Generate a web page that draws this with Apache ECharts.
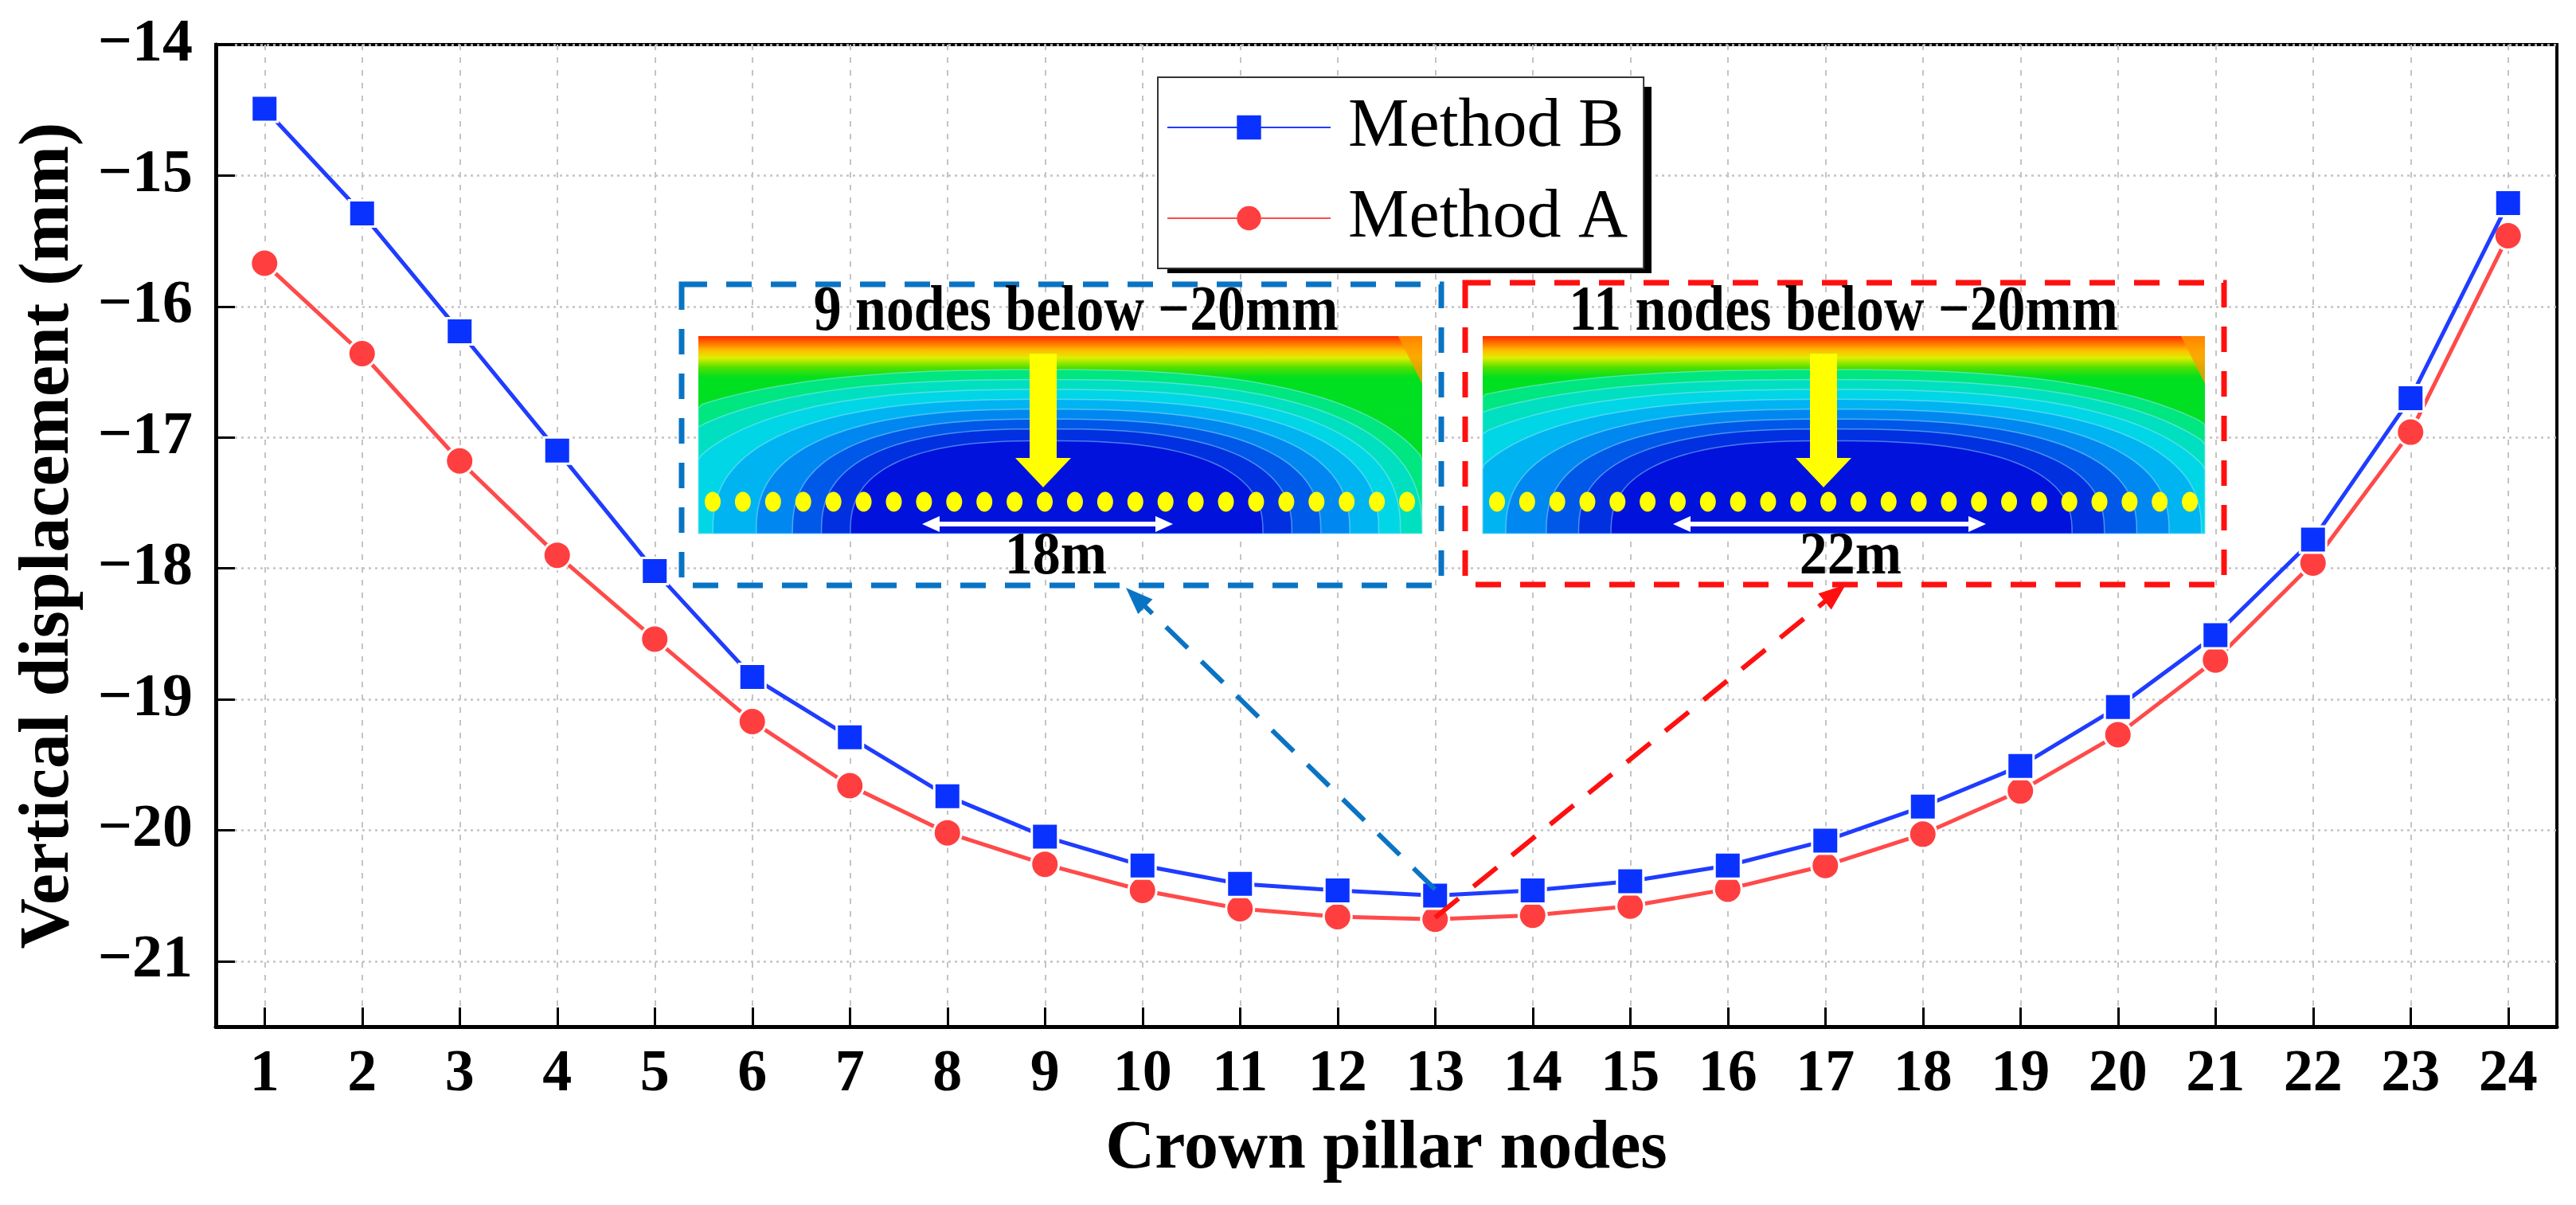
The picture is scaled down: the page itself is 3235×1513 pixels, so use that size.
<!DOCTYPE html>
<html>
<head>
<meta charset="utf-8">
<script src="https://cdn.jsdelivr.net/npm/echarts@6/dist/echarts.min.js"></script>
<style>html,body{margin:0;padding:0;background:#fff}#c{width:3235px;height:1513px}</style>
</head>
<body>
<div id="c"></div>
<script>
// ---------------- data ----------------
const nodes = [1,2,3,4,5,6,7,8,9,10,11,12,13,14,15,16,17,18,19,20,21,22,23,24];
const methodB = [-14.49,-15.29,-16.19,-17.10,-18.02,-18.83,-19.29,-19.74,-20.05,-20.27,-20.41,-20.46,-20.50,-20.46,-20.39,-20.27,-20.08,-19.82,-19.51,-19.06,-18.51,-17.78,-16.70,-15.21];
const methodA = [-15.67,-16.36,-17.18,-17.90,-18.54,-19.17,-19.66,-20.02,-20.26,-20.46,-20.60,-20.66,-20.68,-20.65,-20.58,-20.45,-20.27,-20.03,-19.70,-19.27,-18.70,-17.96,-16.96,-15.46];
const yTicks = [-21,-20,-19,-18,-17,-16,-15,-14];
const seriesNames = ['Method B','Method A'];
const xTitle = 'Crown pillar nodes';
const yTitle = 'Vertical displacement (mm)';
const insetTitles = ['9 nodes below \u221220mm','11 nodes below \u221220mm'];
const insetSpans = ['18m','22m'];
const pointedNode = 13;

// ---------------- chart ----------------
const FONT = '"Liberation Serif","Times New Roman",serif';
const chart = echarts.init(document.getElementById('c'), null, {renderer:'canvas', width:3235, height:1513});
const fmtMinus = v => (v < 0 ? '\u2212' : '') + Math.abs(v);

chart.setOption({
  animation:false,
  backgroundColor:'#fff',
  grid:{left:271, right:24, top:56, bottom:224, show:true, borderColor:'#000', borderWidth:4, backgroundColor:'transparent'},
  legend:{
    orient:'vertical', left:1454, top:97, padding:[20,20,20,11],
    itemWidth:205, itemHeight:38, itemGap:28, z:20,
    backgroundColor:'#fff', borderColor:'#333', borderWidth:2,
    textStyle:{fontFamily:FONT, fontSize:86, color:'#000', lineHeight:84, padding:[0,0,0,17]},
    itemStyle:{borderWidth:0},
    data:seriesNames
  },
  xAxis:{
    type:'value', min:0.5, max:24.5,
    name:xTitle, nameLocation:'middle', nameGap:112,
    nameTextStyle:{fontFamily:FONT, fontWeight:'bold', fontSize:86, color:'#000'},
    axisLine:{show:true, onZero:false, lineStyle:{color:'#000', width:5}},
    axisTick:{show:true, inside:true, length:24, lineStyle:{color:'#000', width:3}, customValues:nodes},
    axisLabel:{customValues:nodes, fontFamily:FONT, fontWeight:'bold', fontSize:74, color:'#000', margin:24},
    splitLine:{show:true, lineStyle:{color:'#c4c4c4', width:2, type:[7,9]}}
  },
  yAxis:{
    type:'value', min:-21.5, max:-14,
    name:yTitle, nameLocation:'middle', nameGap:165,
    nameTextStyle:{fontFamily:FONT, fontWeight:'bold', fontSize:88, color:'#000'},
    axisLine:{show:true, onZero:false, lineStyle:{color:'#000', width:5}},
    axisTick:{show:true, inside:true, length:24, lineStyle:{color:'#000', width:3}, customValues:yTicks},
    axisLabel:{customValues:yTicks, fontFamily:FONT, fontWeight:'bold', fontSize:76, color:'#000', margin:29, formatter:fmtMinus},
    splitLine:{show:true, lineStyle:{color:'#c4c4c4', width:2.5, type:[3,5]}}
  },
  series:[
    {name:seriesNames[0], type:'line', data:nodes.map((n,i)=>[n, methodB[i]]),
     symbol:'rect', symbolSize:33, z:4,
     itemStyle:{color:'#0a32ff', borderColor:'#fff', borderWidth:3},
     lineStyle:{color:'#1f3cff', width:5}},
    {name:seriesNames[1], type:'line', data:nodes.map((n,i)=>[n, methodA[i]]),
     symbol:'circle', symbolSize:35, z:3,
     itemStyle:{color:'#ff3f3f', borderColor:'#fff', borderWidth:3},
     lineStyle:{color:'#ff4a4a', width:5}}
  ]
});

// ---------------- decorations (legend shadow, insets & arrows) ----------------
const G = [];
G.push({type:'rect', z:1, shape:{x:1466, y:109, width:608, height:234}, style:{fill:'#000'}});

function contour(x0, y0, w, h, cxr, widen){
  G.push({type:'rect', z:5, shape:{x:x0, y:y0, width:w, height:h},
    style:{fill:{type:'linear', x:0, y:0, x2:0, y2:1, colorStops:[
      {offset:0, color:'#ff2a00'},{offset:0.035, color:'#ff7000'},{offset:0.07, color:'#ffb800'},
      {offset:0.11, color:'#e0ee00'},{offset:0.16, color:'#50e000'},{offset:0.21, color:'#00e020'},{offset:1, color:'#00dc30'}]}}});
  G.push({type:'polygon', z:5, shape:{points:[[x0+w-30,y0],[x0+w,y0],[x0+w,y0+60]]}, style:{fill:'#ff9a00', opacity:0.8}});
  const layers = [
    [0.64,0.55,0.83,'#00e680'],
    [0.58,0.52,0.78,'#00e0c0'],
    [0.52,0.49,0.73,'#00d6e6'],
    [0.46,0.46,0.68,'#00b4f2'],
    [0.40,0.42,0.63,'#0088f0'],
    [0.35,0.38,0.58,'#0058e8'],
    [0.31,0.34,0.53,'#0030e0'],
    [0.27,0.30,0.47,'#0012dc']
  ];
  const cx = x0 + cxr*w, by = y0 + h;
  layers.forEach(L => {
    const rxL = L[0]*w*widen, rxR = L[1]*w*widen, ry = L[2]*h;
    const pts = [];
    const p = 2/2.6;
    for (let k=0;k<=80;k++){
      const t = Math.PI*k/80, c = Math.cos(t), s = Math.sin(t);
      let x = c>=0 ? cx - rxL*Math.pow(c,p) : cx + rxR*Math.pow(-c,p);
      let y = by - ry*Math.pow(s,p);
      x = Math.max(x0, Math.min(x0+w, x));
      pts.push([x,y]);
    }
    G.push({type:'polygon', z:5, shape:{points:pts}, style:{fill:L[3], stroke:'rgba(170,235,255,0.45)', lineWidth:1.5}});
  });
}
function tri(tx, ty, ux, uy, len, half, color, z){
  const bx = tx - ux*len, by = ty - uy*len;
  return {type:'polygon', z:z, shape:{points:[[tx,ty],[bx - uy*half, by + ux*half],[bx + uy*half, by - ux*half]]}, style:{fill:color}};
}
function inset(box, img, arrowX, spanX1, spanX2, title, titleX, span, spanTextX, color){
  G.push({type:'rect', z:6, shape:{x:box[0], y:box[1], width:box[2]-box[0], height:box[3]-box[1]},
    style:{fill:'none', stroke:color, lineWidth:7, lineDash:[32,24]}});
  contour(img[0], img[1], img[2]-img[0], img[3]-img[1], 0.48, img[4]);
  G.push({type:'polygon', z:7, shape:{points:[[arrowX-17,444],[arrowX+17,444],[arrowX+17,575],[arrowX+35,575],[arrowX,612],[arrowX-35,575],[arrowX-17,575]]}, style:{fill:'#ffff00'}});
  const dx0 = img[0]+18, dx1 = img[2]-19;
  nodes.forEach((n,i) => {
    const x = dx0 + (dx1-dx0)*i/(nodes.length-1);
    G.push({type:'ellipse', z:7, shape:{cx:x, cy:630, rx:10, ry:12.5}, style:{fill:'#ffff00'}});
  });
  G.push({type:'line', z:7, shape:{x1:spanX1+14, y1:658, x2:spanX2-14, y2:658}, style:{stroke:'#fff', lineWidth:6}});
  G.push(tri(spanX1, 658, -1, 0, 22, 10, '#fff', 7));
  G.push(tri(spanX2, 658, 1, 0, 22, 10, '#fff', 7));
  G.push({type:'text', z:8, x:titleX, y:393, scaleX:0.97, scaleY:1.12,
    style:{text:title, fontFamily:FONT, fontWeight:'bold', fontSize:72, fill:'#000', align:'center', verticalAlign:'middle'}});
  G.push({type:'text', z:8, x:spanTextX, y:700, scaleY:1.1,
    style:{text:span, fontFamily:FONT, fontWeight:'bold', fontSize:70, fill:'#000', align:'center', verticalAlign:'middle'}});
}
inset([856,357,1810,735],[877,422,1786,670,1.0],1310,1158,1473,insetTitles[0],1351,insetSpans[0],1326,'#0a74c4');
inset([1840,355,2793,734],[1862,422,2769,670,1.12],2290,2101,2494,insetTitles[1],2315,insetSpans[1],2324,'#ff1010');

const idx = nodes.indexOf(pointedNode);
const pB = chart.convertToPixel({gridIndex:0}, [pointedNode, methodB[idx]]);
const pA = chart.convertToPixel({gridIndex:0}, [pointedNode, methodA[idx]]);
function dashedArrow(p0, tip, color){
  const dx = tip[0]-p0[0], dy = tip[1]-p0[1], L = Math.hypot(dx,dy), ux = dx/L, uy = dy/L;
  G.push({type:'line', z:9, shape:{x1:p0[0], y1:p0[1], x2:tip[0]-ux*26, y2:tip[1]-uy*26}, style:{stroke:color, lineWidth:6, lineDash:[38,24]}});
  G.push(tri(tip[0], tip[1], ux, uy, 34, 13, color, 9));
}
dashedArrow([pB[0], pB[1]-8], [1414,738], '#0a74c4');
dashedArrow([pA[0], pA[1]-2], [2318,734], '#ff1010');

chart.setOption({graphic:G});
</script>
</body>
</html>
